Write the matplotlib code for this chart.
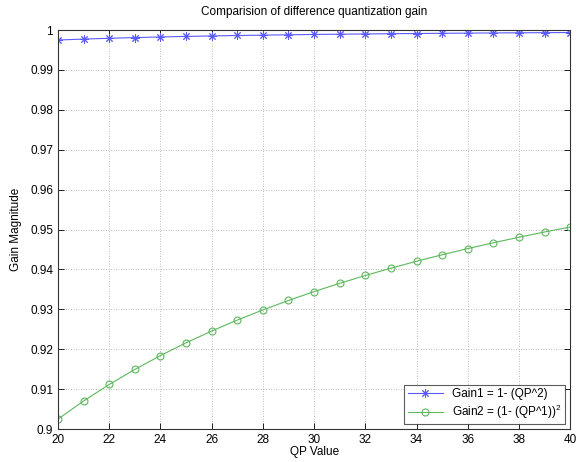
import matplotlib
matplotlib.use("Agg")
import matplotlib.pyplot as plt

qp = list(range(20, 41))
gain1 = [0.9975, 0.99773, 0.99793, 0.99811, 0.99826, 0.9984, 0.99852, 0.99863,
         0.99872, 0.99881, 0.99889, 0.99896, 0.99902, 0.99908, 0.99913, 0.99918,
         0.99923, 0.99927, 0.99931, 0.99934, 0.99938]
gain2 = [0.9025, 0.90703, 0.91116, 0.91493, 0.9184, 0.9216, 0.92456, 0.9273,
         0.92985, 0.93222, 0.93444, 0.93652, 0.93848, 0.94031, 0.94204, 0.94367,
         0.94522, 0.94668, 0.94806, 0.94938, 0.95063]

plt.rcParams["font.family"] = ["Liberation Sans", "DejaVu Sans"]
plt.rcParams["mathtext.fontset"] = "custom"
plt.rcParams["mathtext.rm"] = "Liberation Sans"

fig = plt.figure(figsize=(5.83, 4.62), dpi=100)
ax = fig.add_axes([0.0995, 0.0714, 0.8785, 0.8636])

ax.plot(qp, gain1, color="#5a5aff", lw=0.8, marker=(8, 2, 0), ms=6, mew=0.7,
        label="Gain1 = 1- (QP^2)")
ax.plot(qp, gain2, color="#5cb85c", lw=0.8, marker="o", ms=5, mew=0.8,
        mfc="none", label="Gain2 = (1- (QP^1))$^2$")

ax.set_xlim(20, 40)
ax.set_ylim(0.9, 1.0)
ax.set_xticks(range(20, 41, 2))
ax.set_yticks([0.9 + 0.01 * i for i in range(11)])
ax.set_yticklabels(["0.9", "0.91", "0.92", "0.93", "0.94", "0.95", "0.96",
                    "0.97", "0.98", "0.99", "1"])
ax.tick_params(direction="in", labelsize=8.5, length=4, width=0.6, top=True, right=True)
ax.grid(True, ls=(0, (1, 2)), color="#a8a8a8", lw=0.6)
for s in ax.spines.values():
    s.set_linewidth(0.8)
    s.set_color("#333")

ax.set_title("Comparision of difference quantization gain", fontsize=8.5, pad=11)
ax.set_xlabel("QP Value", fontsize=8.5, labelpad=0)
ax.set_ylabel("Gain Magnitude", fontsize=8.5, labelpad=6)

leg = ax.legend(loc="lower right", fontsize=8.5, fancybox=False, edgecolor="#333",
                borderaxespad=0.4, handlelength=3, borderpad=0.3, labelspacing=0.2)
leg.get_frame().set_linewidth(0.8)

fig.savefig("out.png", dpi=100)
